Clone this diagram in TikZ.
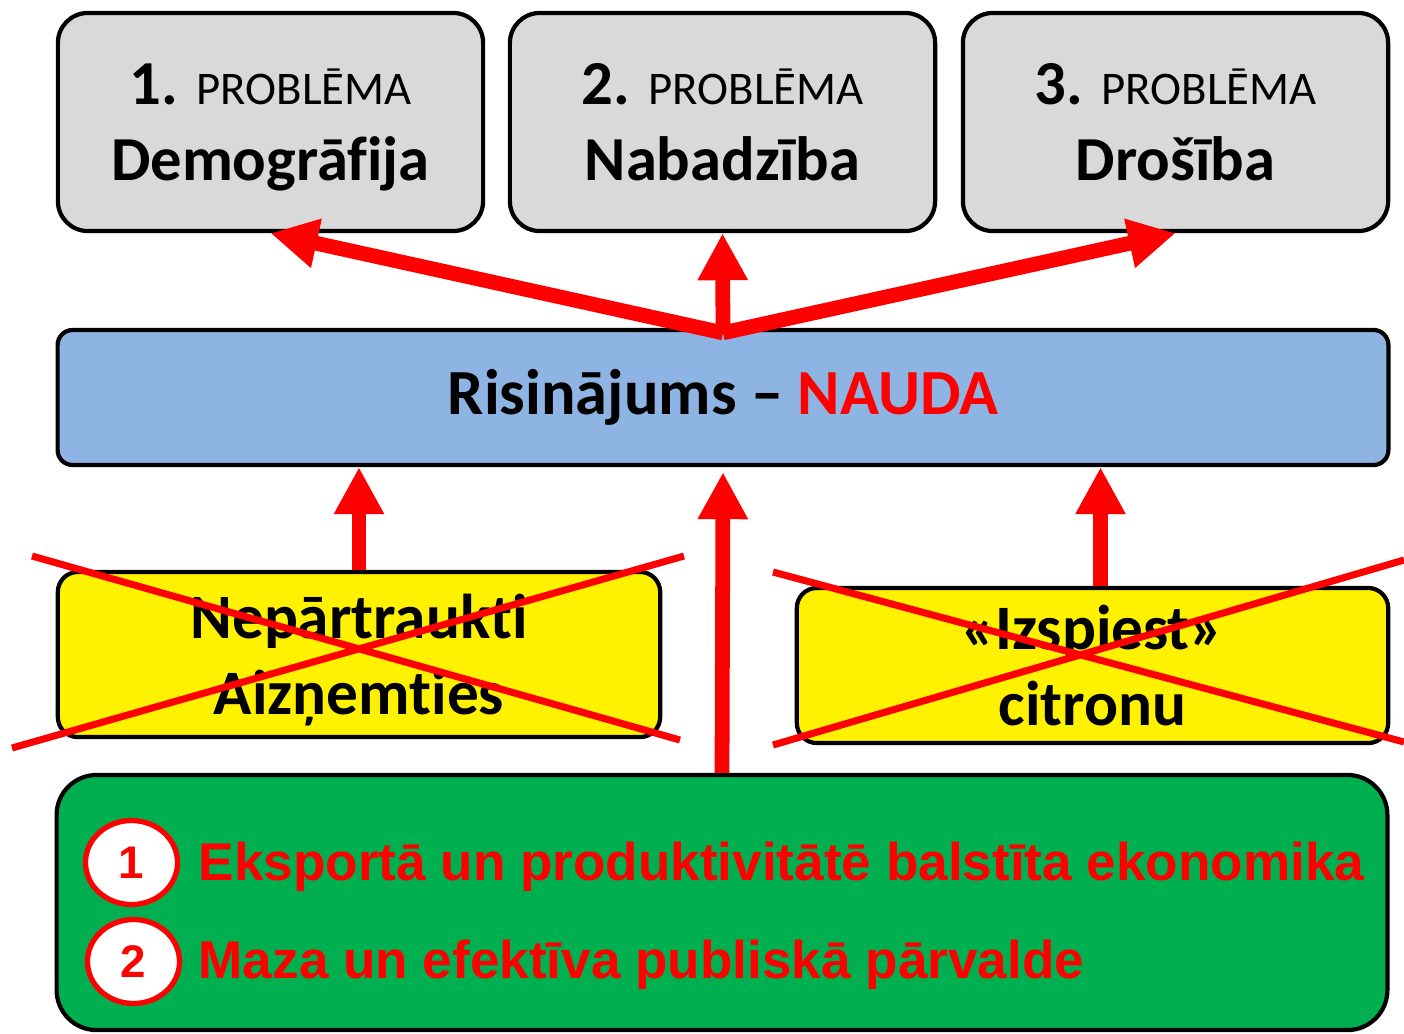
\documentclass[tikz,border=0pt]{standalone}
\usepackage{fontspec}
\setmainfont{Carlito}[Ligatures=NoCommon]
\newfontfamily\arialfont{Liberation Sans}
\usetikzlibrary{shapes.geometric, arrows.meta}
\definecolor{greybox}{HTML}{D9D9D9}
\definecolor{bluebox}{HTML}{8EB4E3}
\definecolor{greenbox}{HTML}{00B050}
\definecolor{pred}{HTML}{FF0000}
\tikzstyle{problem} = [rectangle, rounded corners=0.3cm, minimum width=4.25cm, minimum height=2.18cm, align=center, draw=black, line width=1.2pt, fill=greybox, font=\fontsize{17.8}{21.6}\selectfont\bfseries]
\tikzstyle{solution} = [rectangle, rounded corners=0.15cm, minimum width=13.3cm, minimum height=1.35cm, text centered, draw=black, line width=1.2pt, fill=bluebox, font=\fontsize{18.3}{22}\selectfont\bfseries]
\tikzstyle{option} = [rectangle, rounded corners=0.2cm, align=center, draw=black, line width=1.2pt, fill=yellow, font=\fontsize{18}{21.6}\selectfont\bfseries]
\tikzstyle{ground} = [rectangle, rounded corners=0.4cm, minimum width=13.3cm, minimum height=2.55cm, draw=black, line width=1.2pt, fill=greenbox]
\tikzstyle{num} = [ellipse, minimum width=0.92cm, minimum height=0.84cm, inner sep=0pt, draw=pred, line width=1.5pt, fill=white, text=pred, font=\arialfont\bfseries\fontsize{13}{15}\selectfont]
\tikzstyle{goal} = [inner sep=0pt, text=pred, font=\arialfont\bfseries\fontsize{15.1}{18}\selectfont]
\tikzstyle{arrow} = [pred, line width=4.2pt, -{Triangle[length=0.47cm, width=0.47cm]}]
\tikzstyle{cross} = [pred, line width=2pt]
\newcommand{\nodepth}[1]{\raisebox{0pt}[\height][0pt]{#1}}
\newcommand{\prob}[2]{#1. {\mdseries\fontsize{13.3}{21.6}\selectfont PROBLĒMA}\\\nodepth{#2}}

\begin{document}
\begin{tikzpicture}[x=0.01cm, y=-0.01cm]
		\useasboundingbox (0,0) rectangle (1404,1033);
		% problems
		\node (p1) [problem] at (270.5,122) {\prob{1}{Demogrāfija}};
		\node (p2) [problem] at (722.5,122) {\prob{2}{Nabadzība}};
		\node (p3) [problem] at (1175.5,122) {\prob{3}{Drošība}};
		% solution
		\node (sol) [solution] at (723,397.5) {Risinājums -- \textcolor{pred}{NAUDA}};
		% rejected options
		\node (loan) [option, minimum width=6.02cm, minimum height=1.65cm] at (359,654.5) {Nepārtraukti\\\nodepth{Aizņemties}};
		\node (lemon) [option, minimum width=5.91cm, minimum height=1.55cm] at (1092.5,665.5) {«Izspiest»\\citronu};
		% the real way
		\node (econ) [ground] at (722,902.5) {};
		\node (n1) [num] at (131.5,862.5) {1};
		\node (n2) [num] at (133.5,961.5) {2};
		\node (g1) [goal, anchor=base west] at (198,880) {Eksportā un produktivitātē balstīta ekonomika};
		\node (g2) [goal, anchor=base west] at (198,978) {Maza un efektīva publiskā pārvalde};
		% crossed out
		\draw [cross] (32,556) -- (680,740);
		\draw [cross] (12,748) -- (684,556);
		\draw [cross] (773,572) -- (1404,742);
		\draw [cross] (773,745) -- (1404,560);
		% arrows
		\coordinate (hub) at ([yshift=-0.05cm]sol.north);
		\draw [arrow] (hub) -- (p1.south);
		\draw [arrow] (hub) -- (p2.south);
		\draw [arrow] (hub) -- (p3.south);
		\draw [arrow] (loan.north) -- (loan.north |- sol.south);
		\draw [arrow] (econ.north) -- ([yshift=-0.05cm]sol.south);
		\draw [arrow] ([xshift=0.08cm]lemon.north) -- ([xshift=0.08cm]lemon.north |- sol.south);
	\end{tikzpicture}
\end{document}
